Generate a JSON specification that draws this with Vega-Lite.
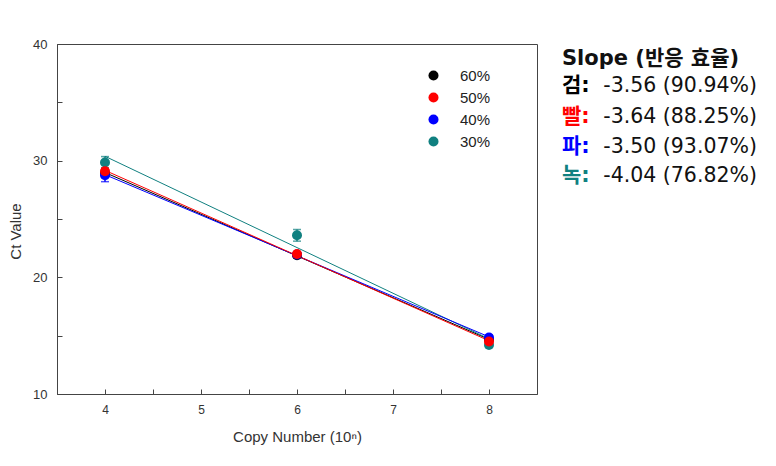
{
  "$schema": "https://vega.github.io/schema/vega-lite/v6.json",
  "width": 480,
  "height": 350,
  "autosize": {"type": "none"},
  "padding": {"left": 57, "top": 44, "right": 239, "bottom": 72},
  "background": "white",
  "view": {"stroke": "#444", "strokeWidth": 1},
  "config": {
    "font": "Liberation Sans",
    "axis": {"grid": false, "domainColor": "#444", "tickColor": "#444", "labelColor": "#333", "titleColor": "#333", "labelFontSize": 13, "titleFontSize": 15, "titleFontWeight": "normal", "tickSize": -5, "labelPadding": 15}
  },
  "datasets": {
    "pts": [
      {"series": "60%", "x": 4, "ct": 28.95, "lo": 28.75, "hi": 29.15},
      {"series": "60%", "x": 6, "ct": 21.9, "lo": 21.7, "hi": 22.1},
      {"series": "60%", "x": 8, "ct": 14.65, "lo": 14.45, "hi": 14.85},
      {"series": "30%", "x": 4, "ct": 29.85, "lo": 29.4, "hi": 30.35},
      {"series": "30%", "x": 6, "ct": 23.6, "lo": 23.1, "hi": 24.1},
      {"series": "30%", "x": 8, "ct": 14.2, "lo": 14.0, "hi": 14.4},
      {"series": "40%", "x": 4, "ct": 28.75, "lo": 28.2, "hi": 29.3},
      {"series": "40%", "x": 6, "ct": 21.95, "lo": 21.75, "hi": 22.15},
      {"series": "40%", "x": 8, "ct": 14.85, "lo": 14.65, "hi": 15.05},
      {"series": "50%", "x": 4, "ct": 29.1, "lo": 28.85, "hi": 29.35},
      {"series": "50%", "x": 6, "ct": 22.0, "lo": 21.8, "hi": 22.2},
      {"series": "50%", "x": 8, "ct": 14.5, "lo": 14.3, "hi": 14.7}
    ],
    "notes": [
      {"series": "60%", "prefix": "검:", "value": "-3.56 (90.94%)", "nx": 8.76, "vx": 9.19, "ny": 36.4},
      {"series": "50%", "prefix": "빨:", "value": "-3.64 (88.25%)", "nx": 8.76, "vx": 9.19, "ny": 33.75},
      {"series": "40%", "prefix": "파:", "value": "-3.50 (93.07%)", "nx": 8.76, "vx": 9.19, "ny": 31.18},
      {"series": "30%", "prefix": "녹:", "value": "-4.04 (76.82%)", "nx": 8.76, "vx": 9.19, "ny": 28.68}
    ],
    "head": [
      {"label": "Slope (반응 효율)", "nx": 8.76, "ny": 38.72}
    ]
  },
  "layer": [
    {
      "data": {"name": "pts"},
      "transform": [{"regression": "ct", "on": "x", "groupby": ["series"]}],
      "mark": {"type": "line", "strokeWidth": 1},
      "encoding": {
        "x": {"field": "x", "type": "quantitative", "scale": {"domain": [3.5, 8.5], "nice": false, "zero": false},
          "axis": {"values": [4, 4.5, 5, 5.5, 6, 6.5, 7, 7.5, 8], "labelExpr": "datum.value % 1 == 0 ? format(datum.value, 'd') : ''", "title": "Copy Number (10ⁿ)", "titlePadding": 14, "labelFlush": false, "labelFontSize": 12}},
        "y": {"field": "ct", "type": "quantitative", "scale": {"domain": [10, 40], "nice": false, "zero": false},
          "axis": {"values": [10, 15, 20, 25, 30, 35, 40], "labelExpr": "datum.value % 10 == 0 ? format(datum.value, 'd') : ''", "title": "Ct Value", "titleX": -34, "titleY": 187, "labelFlush": false}},
        "color": {"field": "series", "type": "nominal", "scale": {"domain": ["60%", "50%", "40%", "30%"], "range": ["#000000", "#ff0000", "#0000ff", "#108080"]}}
      }
    },
    {
      "data": {"name": "pts"},
      "mark": {"type": "errorbar", "ticks": {"size": 8, "thickness": 1.5}, "thickness": 1.5},
      "encoding": {
        "x": {"field": "x", "type": "quantitative"},
        "y": {"field": "lo", "type": "quantitative", "title": "Ct Value"},
        "y2": {"field": "hi"},
        "color": {"field": "series", "type": "nominal"}
      }
    },
    {
      "data": {"name": "pts"},
      "mark": {"type": "point", "filled": true, "shape": "circle", "size": 100, "opacity": 1},
      "encoding": {
        "x": {"field": "x", "type": "quantitative"},
        "y": {"field": "ct", "type": "quantitative"},
        "color": {"field": "series", "type": "nominal",
          "legend": {"title": null, "orient": "none", "legendX": 369, "legendY": 24, "symbolType": "circle", "symbolSize": 100, "symbolOpacity": 1, "symbolStrokeWidth": 0, "labelFontSize": 15, "labelColor": "#222", "labelOffset": 19, "rowPadding": 6, "labelFont": "Liberation Sans",
            "encode": {"symbols": {"update": {"opacity": {"value": 1}, "fillOpacity": {"value": 1}}}}}}
      }
    },
    {
      "data": {"name": "head"},
      "mark": {"type": "text", "align": "left", "baseline": "middle", "font": "DejaVu Sans, Noto Sans CJK KR", "fontSize": 21, "fontWeight": "bold", "color": "#111"},
      "encoding": {
        "x": {"field": "nx", "type": "quantitative"},
        "y": {"field": "ny", "type": "quantitative"},
        "text": {"field": "label"}
      }
    },
    {
      "data": {"name": "notes"},
      "mark": {"type": "text", "align": "left", "baseline": "middle", "font": "DejaVu Sans, Noto Sans CJK KR", "fontSize": 21, "fontWeight": "bold"},
      "encoding": {
        "x": {"field": "nx", "type": "quantitative"},
        "y": {"field": "ny", "type": "quantitative"},
        "text": {"field": "prefix"},
        "color": {"field": "series", "type": "nominal"}
      }
    },
    {
      "data": {"name": "notes"},
      "mark": {"type": "text", "align": "left", "baseline": "middle", "font": "DejaVu Sans, Noto Sans CJK KR", "fontSize": 20.5, "color": "#111"},
      "encoding": {
        "x": {"field": "vx", "type": "quantitative"},
        "y": {"field": "ny", "type": "quantitative"},
        "text": {"field": "value"}
      }
    }
  ]
}
